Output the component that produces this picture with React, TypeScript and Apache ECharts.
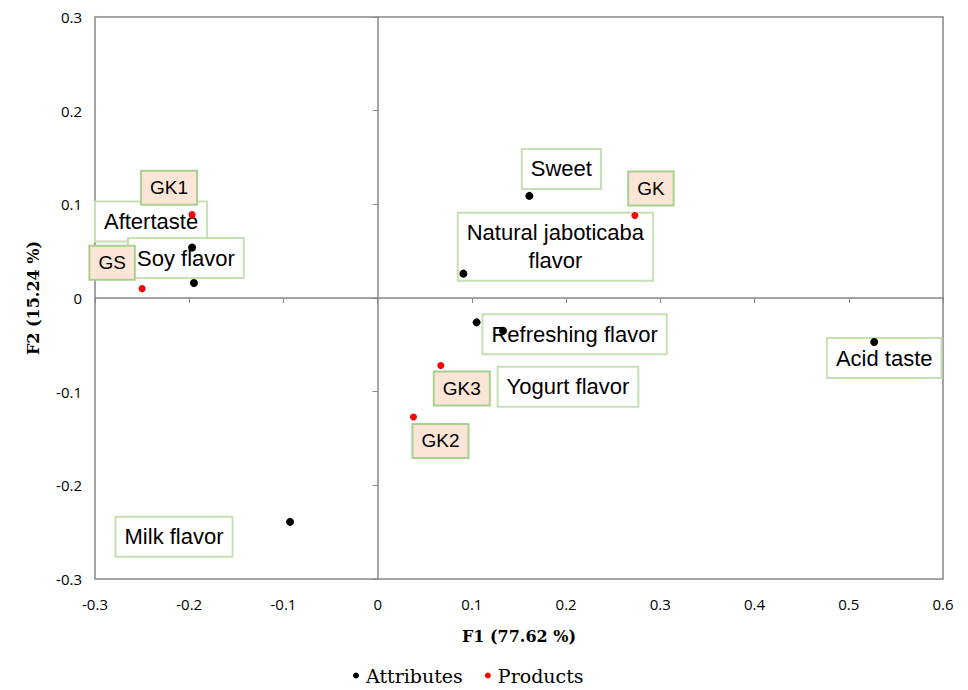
import React, { useEffect, useRef } from "react";
import * as echarts from "echarts";

// Attributes (black points)
const attrNames = ["Sweet", "Natural jaboticaba\nflavor", "Aftertaste", "Soy flavor", "Refreshing flavor", "Yogurt flavor", "Acid taste", "Milk flavor"];
const attrF1 = [0.161, 0.091, -0.197, -0.195, 0.105, 0.133, 0.527, -0.093];
const attrF2 = [0.109, 0.026, 0.054, 0.016, -0.026, -0.035, -0.047, -0.239];

// Products (red points)
const prodNames = ["GK1", "GK", "GS", "GK3", "GK2"];
const prodF1 = [-0.197, 0.273, -0.250, 0.067, 0.038];
const prodF2 = [0.089, 0.088, 0.010, -0.072, -0.127];

const xTicks = [-0.3, 0.6, 0.1];
const yTicks = [-0.3, 0.3, 0.1];

// label placement (pixel offsets of label box centers from the points)
const attrLabelOffsets: Record<string, [number, number]> = {
  "Sweet": [32, -27],
  "Natural jaboticaba\nflavor": [92, -27],
  "Aftertaste": [-41, -26],
  "Soy flavor": [-8, -25],
  "Refreshing flavor": [98, 12],
  "Yogurt flavor": [65, 56],
  "Acid taste": [10, 16],
  "Milk flavor": [-116, 15],
};
const prodLabelOffsets: Record<string, [number, number]> = {
  GK1: [-23, -27],
  GK: [16, -27],
  GS: [-30, -26],
  GK3: [21, 23],
  GK2: [27, 24],
};

const fmt = (v: number) => {
  const r = Math.round(v * 10) / 10;
  return r === 0 ? "0" : String(r);
};

export default function App() {
  const ref = useRef<HTMLDivElement>(null);
  useEffect(() => {
    if (!ref.current) return;
    const chart = echarts.init(ref.current, null, { renderer: "svg" });
    const gray = "#878787";
    const attrPts = attrNames.map((n, i) => ({ name: n, value: [attrF1[i], attrF2[i]] }));
    const prodPts = prodNames.map((n, i) => ({ name: n, value: [prodF1[i], prodF2[i]] }));
    const attrLbl = attrNames.map((n, i) => ({
      name: n,
      value: [attrF1[i], attrF2[i]],
      label: { offset: attrLabelOffsets[n] },
    }));
    const prodLbl = prodNames.map((n, i) => ({
      name: n,
      value: [prodF1[i], prodF2[i]],
      label: { offset: prodLabelOffsets[n] },
    }));
    const baseX = { type: "value", min: xTicks[0], max: xTicks[1], interval: xTicks[2] };
    const baseY = { type: "value", min: yTicks[0], max: yTicks[1], interval: yTicks[2] };
    chart.setOption({
      animation: false,
      grid: { left: 95, right: 25, top: 17, bottom: 111, show: true, borderColor: gray, borderWidth: 1.5, backgroundColor: "transparent" },
      xAxis: [
        {
          ...baseX,
          position: "bottom",
          axisLine: { show: false, onZero: false },
          axisTick: { show: false },
          splitLine: { show: false },
          axisLabel: { formatter: fmt, color: "#000", fontFamily: "Open Sans", fontSize: 15, margin: 17 },
          name: "F1 (77.62 %)",
          nameLocation: "middle",
          nameGap: 49,
          nameTextStyle: { fontFamily: "DejaVu Serif", fontWeight: "bold", fontSize: 16, color: "#000" },
        },
        {
          ...baseX,
          position: "bottom",
          axisLine: { show: true, onZero: true, lineStyle: { color: gray, width: 1.5 } },
          axisTick: { show: true, length: 5, lineStyle: { color: gray } },
          axisLabel: { show: false },
          splitLine: { show: false },
        },
      ],
      yAxis: [
        {
          ...baseY,
          position: "left",
          axisLine: { show: false, onZero: false },
          axisTick: { show: false },
          splitLine: { show: false },
          axisLabel: { formatter: fmt, color: "#000", fontFamily: "Open Sans", fontSize: 15, margin: 13 },
          name: "F2 (15.24 %)",
          nameLocation: "middle",
          nameGap: 54,
          nameRotate: 90,
          nameTextStyle: { fontFamily: "DejaVu Serif", fontWeight: "bold", fontSize: 16, color: "#000" },
        },
        {
          ...baseY,
          position: "left",
          axisLine: { show: true, onZero: true, lineStyle: { color: gray, width: 1.5 } },
          axisTick: { show: true, length: 5, lineStyle: { color: gray } },
          axisLabel: { show: false },
          splitLine: { show: false },
        },
      ],
      legend: {
        data: ["Attributes", "Products"],
        bottom: 0,
        left: 348,
        icon: "circle",
        itemWidth: 6,
        itemHeight: 6,
        itemGap: 22,
        textStyle: { fontFamily: "DejaVu Serif", fontSize: 19, color: "#000", padding: [0, 0, 0, 2] },
      },
      series: [
        {
          name: "attrLabels",
          type: "scatter",
          z: 2,
          symbolSize: 0,
          itemStyle: { opacity: 1 },
          data: attrLbl,
          silent: true,
          label: {
            show: true,
            position: "inside",
            formatter: "{b}",
            fontFamily: "Arial, Liberation Sans",
            fontSize: 22,
            lineHeight: 28,
            color: "#000",
            opacity: 1,
            textBorderWidth: 0,
            textBorderColor: "transparent",
            align: "center",
            backgroundColor: "#ffffff",
            borderColor: "#c5e0b4",
            borderWidth: 2,
            padding: [6, 8, 4, 8],
          },
        },
        {
          name: "prodLabels",
          type: "scatter",
          z: 2,
          symbolSize: 0,
          itemStyle: { opacity: 1 },
          data: prodLbl,
          silent: true,
          label: {
            show: true,
            position: "inside",
            formatter: "{b}",
            fontFamily: "Arial, Liberation Sans",
            fontSize: 19,
            color: "#000",
            opacity: 1,
            textBorderWidth: 0,
            textBorderColor: "transparent",
            backgroundColor: "#fbe5d6",
            borderColor: "#a9d18e",
            borderWidth: 2,
            padding: [7, 8, 6, 8],
          },
        },
        {
          name: "Attributes",
          type: "scatter",
          z: 5,
          symbolSize: 8,
          itemStyle: { color: "#000", opacity: 1 },
          data: attrPts,
        },
        {
          name: "Products",
          type: "scatter",
          z: 5,
          symbolSize: 7,
          itemStyle: { color: "#ff0000", opacity: 1 },
          data: prodPts,
        },
      ],
    });
    return () => chart.dispose();
  }, []);
  return <div ref={ref} style={{ width: 968, height: 690, position: "absolute", left: 0, top: 0 }} />;
}
